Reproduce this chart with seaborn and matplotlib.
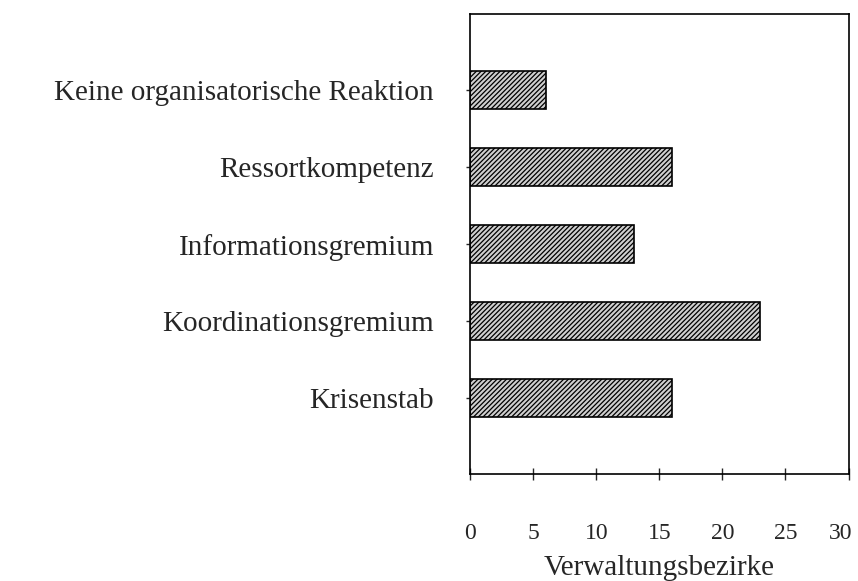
import matplotlib
matplotlib.use("Agg")
import matplotlib.pyplot as plt
import matplotlib.transforms as mtransforms
import seaborn as sns
import pandas as pd

# categories top to bottom and number of districts per category
categories = ["Keine organisatorische Reaktion", "Ressortkompetenz",
              "Informationsgremium", "Koordinationsgremium", "Krisenstab"]
counts = [6, 16, 13, 23, 16]
x_ticks = [0, 5, 10, 15, 20, 25, 30]
x_label = "Verwaltungsbezirke"

sns.set_style("ticks")
plt.rcParams['font.family'] = ['Liberation Serif', 'DejaVu Serif']
plt.rcParams['hatch.linewidth'] = 0.9
plt.rcParams['hatch.color'] = 'black'

df = pd.DataFrame({"Kategorie": categories, "Anzahl": counts})

fig = plt.figure(figsize=(8.58, 5.81), dpi=100)
ax = fig.add_axes([0.548, 0.184, 0.441, 0.792])

sns.barplot(data=df, x="Anzahl", y="Kategorie", orient="h", ax=ax,
            color="#cfcfcf", width=0.5, edgecolor="black", linewidth=1.2)
for p in ax.patches:
    p.set_hatch("///////")

ax.set_xlim(0, 30)
ax.set_ylim(4.99, -0.99)
ax.set_xticks(x_ticks)
ax.set_xticklabels([str(t) for t in x_ticks], fontsize=17)
ax.tick_params(axis="x", direction="inout", length=8, width=1, pad=31)
ax.tick_params(axis="y", direction="out", length=3, width=1, pad=23, labelsize=21)
ax.set_ylabel("")
ax.set_xlabel(x_label, fontsize=21, labelpad=8)

# last tick label sits at the right edge, nudge it in a little
last = ax.get_xticklabels()[-1]
last.set_transform(last.get_transform() +
                   mtransforms.ScaledTranslation(-6 / 72, 0, fig.dpi_scale_trans))

for s in ax.spines.values():
    s.set_visible(True)
    s.set_linewidth(1.2)
    s.set_color("black")

fig.savefig("out.png", dpi=100)
